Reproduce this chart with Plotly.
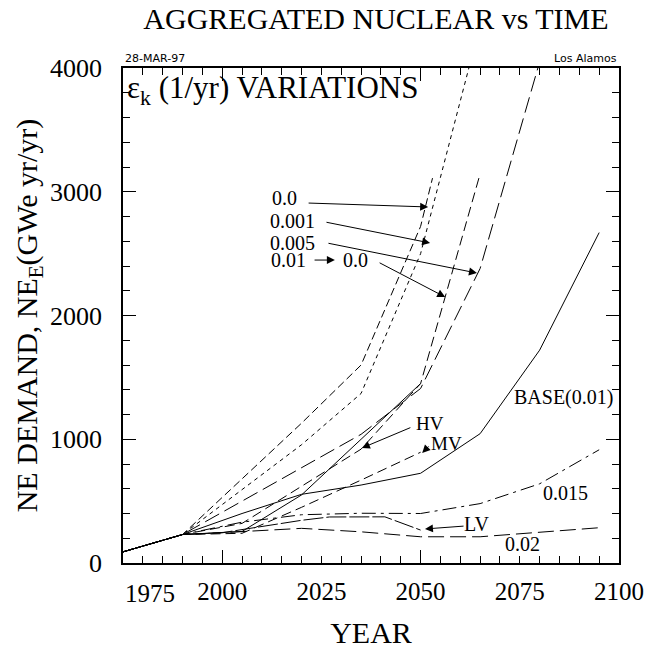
import plotly.graph_objects as go

# scenario curves (year, GWe yr/yr)
base_years = [1975, 1990, 2005, 2020, 2035, 2050, 2065, 2080, 2095]
base_vals = [90, 230, 400, 555, 630, 725, 1045, 1720, 2670]

e015_years = [1975, 1990, 2005, 2020, 2035, 2050, 2065, 2080, 2095]
e015_vals = [90, 230, 330, 390, 402, 400, 480, 640, 915]

e02_years = [1975, 1990, 2000, 2020, 2035, 2050, 2065, 2080, 2095]
e02_vals = [90, 230, 245, 280, 252, 212, 212, 250, 285]

lv_years = [1975, 1990, 2000, 2020, 2027, 2041, 2050]
lv_vals = [90, 230, 245, 345, 372, 373, 266]

mv_years = [1975, 1990, 2005, 2020, 2035, 2050]
mv_vals = [90, 230, 240, 450, 670, 895]

hv_years = [1975, 1990, 2005, 2020, 2035, 2050]
hv_vals = [90, 230, 255, 550, 1000, 1450]

e0_years = [1975, 1990, 2005, 2020, 2035, 2050, 2053]
e0_vals = [90, 230, 680, 1130, 1600, 2720, 3110]

e001_years = [1975, 1990, 2005, 2020, 2035, 2050, 2065]
e001_vals = [90, 230, 593, 956, 1370, 2500, 4350]

e005_years = [1975, 1990, 2005, 2020, 2035, 2050, 2065, 2080]
e005_vals = [90, 230, 500, 770, 1040, 1410, 2380, 4050]

e01to0_years = [1975, 1990, 2005, 2020, 2035, 2050, 2065]
e01to0_vals = [90, 230, 320, 620, 920, 1450, 3145]

x_ticks = [1975, 2000, 2025, 2050, 2075, 2100]
y_ticks = [0, 1000, 2000, 3000, 4000]

SERIF = "Liberation Serif"

curves = [
    (base_years, base_vals, "solid"),
    (e015_years, e015_vals, "14px,5px,3px,5px"),
    (e02_years, e02_vals, "16px,6px"),
    (lv_years, lv_vals, "20px,3px"),
    (mv_years, mv_vals, "10px,5px"),
    (hv_years, hv_vals, "solid"),
    (e0_years, e0_vals, "8px,4px"),
    (e001_years, e001_vals, "4px,4px"),
    (e005_years, e005_vals, "16px,6px"),
    (e01to0_years, e01to0_vals, "10px,5px"),
]

fig = go.Figure()
for xs, ys, dash in curves:
    fig.add_trace(go.Scatter(x=xs, y=ys, mode="lines",
                             line=dict(color="black", width=1, dash=dash),
                             showlegend=False, hoverinfo="skip"))

# invisible trace on a second x axis only to carry the long ticks at 2000/2050/2100
fig.add_trace(go.Scatter(x=[1975], y=[0], xaxis="x2", mode="markers",
                         marker=dict(opacity=0), showlegend=False, hoverinfo="skip"))

fig.update_layout(
    width=646, height=650,
    margin=dict(l=123, r=27, t=68, b=87),
    paper_bgcolor="white", plot_bgcolor="white",
    font=dict(family=SERIF, color="black"),
    title=dict(text="AGGREGATED NUCLEAR vs TIME", x=0.582, xanchor="center",
               y=0.972, yanchor="middle", font=dict(size=30, family=SERIF)),
    xaxis=dict(range=[1975, 2100], tickvals=x_ticks[1:], ticks="inside", ticklen=7,
               tickcolor="black", showline=True, linecolor="black", linewidth=1.5,
               mirror="ticks", showgrid=False, zeroline=False, tickfont=dict(size=25),
               automargin=False, ticklabelstandoff=5,
               minor=dict(dtick=5, tick0=1975, ticks="inside", ticklen=7, tickcolor="black"),
               title=dict(text="YEAR", font=dict(size=30), standoff=18)),
    xaxis2=dict(range=[1975, 2100], overlaying="x", anchor="y", side="bottom",
                tickvals=[2000, 2050, 2100], ticks="inside", ticklen=13, tickcolor="black",
                showticklabels=False, showgrid=False, zeroline=False, mirror="ticks",
                showline=False, automargin=False),
    yaxis=dict(range=[0, 4000], tickvals=y_ticks, ticks="inside", ticklen=13,
               tickcolor="black", showline=True, linecolor="black", linewidth=1.5,
               mirror="ticks", showgrid=False, zeroline=False, tickfont=dict(size=26),
               automargin=False, ticklabelstandoff=14,
               minor=dict(dtick=200, ticks="inside", ticklen=7, tickcolor="black"),
               title=dict(text="NE DEMAND, NE<sub>E</sub>(GWe yr/yr)", font=dict(size=30),
                          standoff=4)),
)

labels = [
    ("0.0", 2015.6, 2950, 20),
    ("0.001", 2017.8, 2764, 20),
    ("0.005", 2017.8, 2586, 20),
    ("0.01", 2016.6, 2448, 20),
    ("0.0", 2033.5, 2448, 20),
    ("BASE(0.01)", 2086.1, 1341, 20),
    ("0.015", 2086.6, 566, 20),
    ("0.02", 2075.6, 154, 20),
    ("LV", 2064.2, 315, 20),
    ("MV", 2056.4, 968, 19),
    ("HV", 2052.4, 1128, 19),
]
for text, x, y, size in labels:
    fig.add_annotation(x=x, y=y, text=text, showarrow=False, font=dict(size=size))

arrows = [
    (2021.4, 2909, 2051.9, 2877),
    (2025.9, 2756, 2052.4, 2586),
    (2026.4, 2586, 2064.2, 2343),
    (2022.9, 2448, 2028.4, 2448),
    (2039.3, 2432, 2056.2, 2149),
    (2047.8, 1099, 2035.2, 929),
    (2052.4, 954, 2050.4, 889),
    (2061.2, 299, 2051.1, 275),
]
for x0, y0, x1, y1 in arrows:
    fig.add_annotation(x=x1, y=y1, ax=x0, ay=y0, axref="x", ayref="y", text="",
                       showarrow=True, arrowhead=2, arrowsize=1.6, arrowwidth=1,
                       arrowcolor="black")

fig.add_annotation(x=1975.6, y=3822, text="ε<sub>k</sub> (1/yr) VARIATIONS", showarrow=False,
                   xanchor="left", font=dict(size=31))
fig.add_annotation(x=0, y=0, xref="paper", yref="paper", xanchor="left", yanchor="top",
                   yshift=-15, text="1975", showarrow=False, font=dict(size=25))
fig.add_annotation(x=0, y=1, xref="paper", yref="paper", yanchor="bottom", xanchor="left",
                   text="28-MAR-97", showarrow=False, yshift=1,
                   font=dict(size=11, family="DejaVu Sans"))
fig.add_annotation(x=1, y=1, xref="paper", yref="paper", yanchor="bottom", xanchor="right",
                   text="Los Alamos", showarrow=False, yshift=1,
                   font=dict(size=11, family="DejaVu Sans"))

# drop the default page margin so the figure sits at the window's corner
fig.write_html("out.html", config={"displayModeBar": False},
               post_script="document.body.style.margin='0';")
